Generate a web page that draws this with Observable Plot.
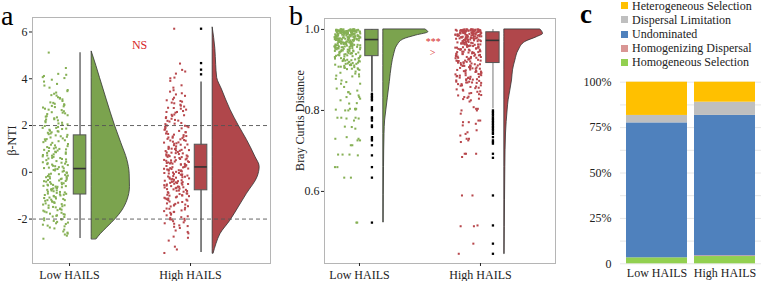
<!DOCTYPE html>
<html><head><meta charset="utf-8">
<script src="https://cdn.jsdelivr.net/npm/d3@7"></script>
<script src="https://cdn.jsdelivr.net/npm/@observablehq/plot@0.6"></script>
<style>
body{margin:0;background:#fff;}
#wrap{position:relative;width:765px;height:281px;overflow:hidden;font-family:"Liberation Serif","Times New Roman",serif;color:#222;}
.panel{position:absolute;top:0;}
.tag{position:absolute;font-family:"Liberation Serif","Times New Roman",serif;color:#000;white-space:nowrap;}
#legend{position:absolute;left:621px;top:0px;font-size:12px;}
#legend .row{height:14.2px;line-height:14.2px;white-space:nowrap;display:flex;align-items:center;}
#legend .row:first-child{margin-top:-1.4px;}
#legend .sw{width:7px;height:7px;margin-right:4px;display:inline-block;}
</style></head><body><div id="wrap"></div>
<script>
// ---------- shared ----------
const groups = ["Low HAILS", "High HAILS"];

// ---------- panel a : beta-NTI ----------
const aLowValues = [5.12,4.46,4.21,4.17,4.12,4.03,3.96,3.88,3.71,3.52,3.47,3.41,3.36,3.28,3.21,3.12,3.05,2.97,2.93,2.88,2.84,2.79,2.72,2.66,2.61,2.57,2.49,2.44,2.38,2.31,2.27,2.19,2.14,2.09,2.03,1.98,1.94,1.87,1.82,1.76,1.71,1.66,1.58,1.54,1.49,1.42,1.37,1.33,1.26,1.21,1.15,1.08,1.04,0.98,0.93,0.88,0.83,0.77,0.72,0.68,0.61,0.57,0.52,0.48,0.41,0.37,0.33,0.28,0.22,0.17,0.13,0.08,0.03,-0.02,-0.06,-0.11,-0.16,-0.19,-0.24,-0.29,-0.33,-0.38,-0.42,-0.47,-0.51,-0.56,-0.61,-0.64,-0.69,-0.73,-0.78,-0.83,-0.86,-0.91,-0.94,-0.99,-1.03,-1.08,-1.12,-1.17,-1.22,-1.26,-1.31,-1.36,-1.41,-1.45,-1.52,-1.57,-1.62,-1.68,-1.73,-1.79,-1.84,-1.91,-1.97,-2.02,-2.08,-2.15,-2.21,-2.28,-2.36,-2.45,-2.53,-2.62,-2.71,-2.84,
 2.52,1.63,1.12,0.91,0.45,0.06,-0.35,-0.67,-0.72,-1.19,-1.64,-2.24,2.26,1.85,1.41,0.71,0.26,-0.14,-0.53,-0.88,-1.06,-1.48,-1.86,-2.05,3.15,2.68,1.02,0.35,-0.27,-0.45,-0.81,-1.33,-0.59,-0.97,0.14,-1.71,2.91,0.62,-0.08,-2.4,
 3.62,3.3,3.18,2.99,2.77,2.55,2.35,2.22,2.12,1.9,1.78,1.69,1.52,1.45,1.29,1.18,1.06,0.96,0.86,0.79,0.66,0.55,0.43,0.31,0.2,0.1,-0.01,-0.09,-0.21,-0.31,-0.4,-0.49,-0.58,-0.66,-0.75,-0.84,-0.92,-1.01,-1.1,-1.19,-1.28,-1.38,-1.5,-1.6,-1.77,-1.89,-2.12,-2.31,-2.58,1.74,1.35,0.74,0.39,-0.18,-0.62,-1.14,-1.55,-2.0,2.4,1.0,0.59,0.18,-0.37,-0.77,-1.24,-1.81,2.82,3.78,4.07,-0.54,-0.96,0.85,0.24,-0.26,1.6,1.9,2.05,-1.42,-2.18,-2.66];
const aHighValues = [6.14,4.65,4.38,4.31,4.22,4.02,3.91,3.62,3.51,3.38,3.27,3.19,3.08,3.02,2.95,2.89,2.81,2.76,2.68,2.62,2.55,2.47,2.41,2.36,2.29,2.24,2.17,2.11,2.06,1.99,1.93,1.88,1.82,1.77,1.71,1.64,1.59,1.53,1.48,1.43,1.38,1.31,1.27,1.22,1.16,1.11,1.06,1.01,0.96,0.91,0.87,0.82,0.78,0.73,0.69,0.64,0.59,0.55,0.51,0.46,0.42,0.38,0.33,0.29,0.25,0.21,0.16,0.12,0.08,0.04,-0.01,-0.05,-0.09,-0.14,-0.18,-0.23,-0.27,-0.32,-0.36,-0.41,-0.45,-0.5,-0.55,-0.59,-0.64,-0.68,-0.73,-0.78,-0.83,-0.88,-0.93,-0.98,-1.04,-1.09,-1.15,-1.21,-1.27,-1.33,-1.39,-1.46,-1.52,-1.59,-1.66,-1.73,-1.81,-1.88,-1.95,-2.02,-2.09,-2.18,-2.27,-2.38,-2.49,-2.61,-2.75,-2.92,-3.18,-3.45,
 1.72,1.35,1.02,0.84,0.66,0.47,0.31,0.18,0.02,-0.12,-0.28,-0.43,-0.61,-0.79,-1.02,-1.25,-1.56,-1.92,1.97,1.49,1.18,0.93,0.71,0.52,0.36,0.22,0.11,-0.03,-0.21,-0.38,-0.52,-0.7,-0.91,-1.12,-1.38,-1.7,-2.01,-2.33,2.21,2.58,0.57,0.4,0.07,-0.16,-0.47,-0.85,-1.45,0.99,0.27,-0.66,
 4.05,3.72,3.45,3.33,3.12,2.98,2.85,2.72,2.58,2.44,2.32,2.2,2.08,1.95,1.84,1.74,1.66,1.55,1.46,1.36,1.28,1.19,1.09,1.0,0.92,0.85,0.76,0.68,0.61,0.53,0.44,0.37,0.3,0.23,0.14,0.06,-0.03,-0.1,-0.19,-0.26,-0.34,-0.42,-0.49,-0.57,-0.65,-0.72,-0.8,-0.9,-0.99,-1.07,-1.17,-1.3,-1.42,-1.55,-1.69,-1.84,-1.99,-2.14,-2.3,-2.55,-2.8,-3.3,1.61,1.24,0.81,0.49,0.09,-0.31,-0.75,-1.19,-1.63,-2.06,2.46,1.9,1.41,0.95,0.65,0.34,-0.07,-0.39,-0.62,-0.96,-1.35,-1.78,2.0,1.05,0.42,-0.22,-0.53,-1.0,2.75,3.05,0.15,-0.46,-1.12,0.72,1.52,-2.2];
// box statistics: [lower whisker, Q1, median, Q3, upper whisker]
const aBoxStats = [[-2.83,-0.95,0.16,1.58,5.11],[-3.43,-0.77,0.23,1.18,3.86]];
const aOutliers = [[], [4.19,4.39,4.67,6.14]];
// half-violin outlines: y values and relative density (widths)
const aViolinLowY  = [5.17,4.55,4.04,3.11,2.0,1.24,0.52,-0.06,-0.63,-1.21,-1.64,-2.0,-2.36,-2.65,-2.86];
const aViolinLowD  = [0,4.7,8.3,15,23.3,29.7,35.7,38,38.3,35.7,30.7,24,15.7,9,5];
const aViolinHighY = [6.2,5.27,4.6,4.04,3.54,2.68,2.0,1.38,0.66,0.23,-0.2,-0.92,-1.5,-2.07,-2.65,-3.08,-3.47];
const aViolinHighD = [0,2.7,3.5,4.5,9.3,17.7,26,34.3,42.7,47,45,34.3,26,17.7,7.7,3.7,1];

// ---------- panel b : Bray Curtis ----------
const bLowValues = [1.0,1.0,1.0,0.999,0.999,0.998,0.998,0.997,0.997,0.996,0.996,0.995,0.995,0.994,0.994,0.993,0.993,0.992,0.991,0.991,0.990,0.989,0.989,0.988,0.987,0.987,0.986,0.985,0.985,0.984,0.983,0.982,0.982,0.981,0.980,0.979,0.979,0.978,0.977,0.976,0.975,0.975,0.974,0.973,0.972,0.971,0.970,0.969,0.968,0.967,0.966,0.965,0.964,0.963,0.962,0.961,0.960,0.959,0.958,0.957,0.956,0.955,0.954,0.953,0.952,0.950,0.949,0.948,0.946,0.945,0.944,0.942,0.941,0.940,0.938,0.937,0.935,0.934,0.932,0.931,0.929,0.927,0.926,0.924,0.922,0.921,0.919,0.917,0.915,0.913,0.912,0.910,0.908,0.906,0.904,0.902,0.900,
 1.0,0.999,0.998,0.997,0.996,0.995,0.994,0.993,0.992,0.991,0.990,0.988,0.986,0.984,0.983,0.981,0.978,0.976,0.974,0.972,0.969,0.967,0.964,0.961,0.958,0.955,0.951,0.947,0.943,0.939,0.933,0.928,0.923,0.918,0.911,0.905,0.998,0.996,0.993,0.989,0.985,0.980,0.975,0.970,0.965,0.959,0.953,0.946,0.936,0.925,0.914,0.903,
 1.0,1.0,1.0,1.0,0.999,0.999,0.999,0.998,0.998,0.998,0.997,0.997,0.996,0.996,0.995,0.995,0.994,0.994,0.993,0.992,0.992,0.991,0.990,0.990,0.989,0.988,0.987,0.986,0.985,0.984,0.983,0.982,0.981,0.980,0.979,0.978,0.977,0.976,0.975,0.974,0.973,0.972,0.970,0.968,0.966,0.964,0.962,0.960,0.958,0.956,0.954,0.951,0.948,0.945,0.942,0.939,0.936,0.932,0.928,0.924,0.920,0.916,0.912,0.907,0.902,0.997,0.995,0.993,0.990,0.987,0.984,0.981,0.978,0.974,0.970,0.966,0.962,0.957,0.952,0.947,0.941,0.935,0.929,0.922,0.915,0.908,0.999,0.996,0.994,0.991,0.988,0.985,0.982,0.979,0.976,0.973,0.969,0.965,0.961,0.956,0.950,
 0.896,0.893,0.891,0.886,0.884,0.884,0.889,0.878,0.874,0.870,0.866,0.866,0.858,0.845,0.841,0.845,0.849,0.854,0.833,0.829,0.833,0.825,0.837,0.817,0.818,0.804,0.800,0.802,0.804,0.802,0.800,0.804,0.775,0.780,0.782,0.782,0.782,0.780,0.755,0.760,0.759,0.730,0.726,0.726,0.730,0.734,0.714,0.714,0.689,0.691,0.691,0.691,0.660,0.660,0.634,0.634,0.523,0.523];
const bHighValues = [1.0,1.0,1.0,0.999,0.999,0.998,0.998,0.997,0.997,0.996,0.996,0.995,0.995,0.994,0.993,0.993,0.992,0.991,0.990,0.989,0.988,0.987,0.986,0.985,0.984,0.983,0.982,0.981,0.980,0.979,0.978,0.977,0.976,0.975,0.974,0.973,0.972,0.971,0.970,0.969,0.968,0.966,0.965,0.964,0.962,0.961,0.959,0.958,0.956,0.955,0.953,0.951,0.950,0.948,0.946,0.944,0.942,0.940,0.938,0.936,0.934,0.932,0.930,0.928,0.926,0.923,0.921,0.919,0.916,0.914,0.911,0.909,0.906,0.903,0.901,0.898,0.895,0.892,0.889,0.886,0.883,0.880,0.877,0.874,0.871,0.868,0.865,0.862,
 1.0,0.999,0.998,0.997,0.995,0.994,0.992,0.990,0.988,0.985,0.983,0.980,0.977,0.974,0.971,0.967,0.963,0.959,0.955,0.950,0.945,0.940,0.935,0.929,0.923,0.917,0.911,0.905,0.899,0.893,0.887,0.881,0.875,0.869,0.997,0.993,0.987,0.981,0.975,0.968,0.960,0.952,0.943,0.933,0.922,0.910,0.897,0.884,0.871,0.858,
 1.0,1.0,1.0,1.0,0.999,0.999,0.998,0.998,0.997,0.997,0.996,0.995,0.994,0.993,0.992,0.991,0.990,0.989,0.988,0.987,0.986,0.985,0.983,0.982,0.980,0.979,0.977,0.975,0.973,0.971,0.969,0.967,0.965,0.963,0.960,0.958,0.955,0.953,0.950,0.947,0.944,0.941,0.938,0.935,0.932,0.929,0.926,0.923,0.920,0.917,0.913,0.910,0.907,0.903,0.900,0.896,0.893,0.889,0.885,0.881,0.877,0.873,0.869,0.865,0.861,0.998,0.996,0.993,0.990,0.986,0.982,0.978,0.973,0.968,0.963,0.957,0.951,0.945,0.939,0.932,0.925,0.918,0.911,0.904,0.897,0.890,0.883,0.876,0.869,0.862,0.999,0.997,0.994,0.991,0.987,0.984,0.980,0.976,0.971,0.966,0.961,0.956,0.950,0.944,0.937,0.930,0.922,0.914,0.905,0.896,0.887,0.878,0.868,
 0.859,0.855,0.852,0.849,0.846,0.843,0.840,0.837,0.834,0.831,0.828,0.825,0.856,0.847,0.838,0.829,0.851,0.842,0.833,0.822,
 0.808,0.804,0.800,0.804,0.800,0.792,0.775,0.771,0.775,0.771,0.767,0.763,0.751,0.746,0.742,0.738,0.730,0.726,0.722,0.730,0.693,0.693,0.693,0.685,0.590,0.590,0.516,0.514,0.514,0.471,0.446];
const bBoxStats = [[0.845,0.934,0.975,0.999,1.0],[0.804,0.917,0.973,0.993,1.0]];
const bOutliers = [
 [0.841,0.837,0.833,0.829,0.825,0.808,0.804,0.800,0.783,0.780,0.775,0.763,0.759,0.734,0.730,0.726,0.714,0.689,0.660,0.634,0.523],
 [0.800,0.796,0.792,0.788,0.783,0.779,0.775,0.771,0.767,0.763,0.759,0.755,0.751,0.746,0.742,0.734,0.726,0.722,0.718,0.693,0.683,0.590,0.516,0.471,0.446]];
const bViolinLowY  = [0.524,0.66,0.742,0.775,0.80,0.83,0.87,0.91,0.94,0.96,0.975,0.985,0.993,1.0];
const bViolinLowD  = [0.4,0.7,1.2,1.8,3,4.5,6.5,8.5,11,14,20,33,45,42];
const bViolinHighY = [0.446,0.578,0.66,0.743,0.80,0.825,0.849,0.874,0.899,0.923,0.948,0.969,0.981,0.989,1.0];
const bViolinHighD = [0.3,0.7,1,1.7,3.3,4.3,6,7.7,8.7,11,14.3,21,32.7,38.7,36];

// ---------- panel c : assembly processes ----------
const cProcesses = ["Homogeneous Selection","Homogenizing Dispersal","Undominated","Dispersal Limitation","Heterogeneous Selection"];
const cLow  = [3.3, 0.0, 74.3, 4.1, 18.3];
const cHigh = [4.0, 0.4, 77.3, 7.3, 11.0];
const cColors = ["#92d050","#d99694","#4f81bd","#bfbfbf","#ffc000"];
const cLegendOrder = ["Heterogeneous Selection","Dispersal Limitation","Undominated","Homogenizing Dispersal","Homogeneous Selection"];

// ---------- styling ----------
const fillCol  = ["#7ba34e", "#b0474b"];
const pointCol = ["#86b055", "#b8474c"];
const serif = '"Liberation Serif","Times New Roman",serif';
const PX = 121; // pixels per x unit (for converting violin widths)

function raincloud(cfg) {
  const marks = [];
  const rng = d3.randomLcg(cfg.seed);
  groups.forEach((name, i) => {
    const g = i + 1;
    const vals = cfg.values[i];
    const pts = vals.map(v => ({x: g + cfg.jc + cfg.jw * (2 * rng() - 1), y: v}));
    marks.push(Plot.dot(pts, {x: "x", y: "y", r: 1.15, symbol: "square", fill: pointCol[i]}));
    const vy = cfg.violinY[i], vd = cfg.violinD[i];
    const vrows = vy.map((y, k) => ({y, x1: g + cfg.vb, x2: g + cfg.vb + vd[k] / PX})).sort((a, b) => a.y - b.y);
    marks.push(Plot.areaX(vrows, {y: "y", x1: "x1", x2: "x2", fill: fillCol[i], stroke: "#333", strokeWidth: 0.8, curve: "monotone-y"}));
    const s = cfg.box[i];
    const bx = g + cfg.bc;
    marks.push(Plot.ruleX([s], {x: () => bx, y1: d => d[0], y2: d => d[4], stroke: cfg.whisker[i], strokeWidth: 1.6}));
    marks.push(Plot.rect([s], {x1: () => bx - cfg.bw, x2: () => bx + cfg.bw, y1: d => d[1], y2: d => d[3], fill: fillCol[i], stroke: "#555", strokeWidth: 1}));
    marks.push(Plot.ruleY([s], {y: d => d[2], x1: () => bx - cfg.bw, x2: () => bx + cfg.bw, stroke: "#333", strokeWidth: 1.6}));
    marks.push(Plot.dot(cfg.outliers[i], {x: () => bx, y: d => d, r: 1.3, symbol: "square", fill: "#000"}));
  });
  return marks;
}

const wrap = document.getElementById("wrap");
function place(node, left) { node.classList.add("panel"); node.style.left = left + "px"; wrap.appendChild(node); }

// ---------- panel a ----------
const plotA = Plot.plot({
  width: 290, height: 281, marginLeft: 32, marginRight: 20, marginTop: 17, marginBottom: 18,
  style: {fontFamily: serif, fontSize: "12px", color: "#222", background: "transparent", overflow: "visible"},
  x: {domain: [0.694, 2.661]},
  y: {domain: [-3.9, 6.62]},
  marks: [
    ...raincloud({seed: 7, values: [aLowValues, aHighValues], violinY: [aViolinLowY, aViolinHighY], violinD: [aViolinLowD, aViolinHighD],
      box: aBoxStats, outliers: aOutliers, jc: -0.117, jw: 0.105, bc: 0.087, bw: 0.052, vb: 0.183, whisker: ["#777", "#666"]}),
    Plot.ruleY([-2, 2], {stroke: "#555", strokeWidth: 0.9, strokeDasharray: "4,3"}),
    Plot.text(["NS"], {x: () => 1.579, y: () => 5.43, text: d => d, fill: "#d62728", fontSize: 12}),
    Plot.frame({stroke: "#b5b5b5"}),
    Plot.axisY({ticks: [-2, 0, 2, 4, 6], tickFormat: d => String(d), tickSize: 3, tickPadding: 2, label: null}),
    Plot.axisX({ticks: [1, 2], tickFormat: d => groups[d - 1], tickSize: 3, tickPadding: 4, label: null}),
    Plot.text(["β-NTI"], {frameAnchor: "left", textAnchor: "middle", dx: -20, rotate: -90, text: d => d, fontSize: 12, fill: "#222"})
  ]
});
place(plotA, 0);

// ---------- panel b ----------
const plotB = Plot.plot({
  width: 270, height: 281, marginLeft: 34, marginRight: 5, marginTop: 18, marginBottom: 18,
  style: {fontFamily: serif, fontSize: "12px", color: "#222", background: "transparent", overflow: "visible"},
  x: {domain: [0.711, 2.62]},
  y: {domain: [0.422, 1.027]},
  marks: [
    ...raincloud({seed: 11, values: [bLowValues, bHighValues], violinY: [bViolinLowY, bViolinHighY], violinD: [bViolinLowD, bViolinHighD],
      box: bBoxStats, outliers: bOutliers, jc: -0.1, jw: 0.108, bc: 0.103, bw: 0.055, vb: 0.197, whisker: ["#444", "#aaa"]}),
    Plot.text(["***"], {x: () => 1.61, y: () => 0.9702, text: d => d, fill: "#d62728", fontSize: 10, lineAnchor: "middle"}),
    Plot.text([">"], {x: () => 1.605, y: () => 0.9414, text: d => d, fill: "#d62728", fontSize: 10, lineAnchor: "middle"}),
    Plot.frame({stroke: "#b5b5b5"}),
    Plot.axisY({ticks: [0.6, 0.8, 1.0], tickFormat: d => d.toFixed(1), tickSize: 3, tickPadding: 2, label: null}),
    Plot.axisX({ticks: [1, 2], tickFormat: d => groups[d - 1], tickSize: 3, tickPadding: 4, label: null}),
    Plot.text(["Bray Curtis Distance"], {frameAnchor: "left", textAnchor: "middle", y: () => 0.775, dx: -24, rotate: -90, text: d => d, fontSize: 12, fill: "#222"})
  ]
});
place(plotB, 290);

// ---------- panel c ----------
const cRows = [];
groups.forEach((g, gi) => cProcesses.forEach((p, pi) => cRows.push({g, p, v: (gi ? cHigh : cLow)[pi]})));
const plotC = Plot.plot({
  width: 205, height: 281, marginLeft: 60, marginRight: 4, marginTop: 81.7, marginBottom: 17.7,
  style: {fontFamily: serif, fontSize: "12px", color: "#222", background: "transparent", overflow: "visible"},
  x: {domain: groups, paddingInner: 0.11, paddingOuter: 0.077},
  y: {domain: [0, 100]},
  color: {domain: cProcesses, range: cColors},
  marks: [
    Plot.gridY({ticks: [0, 12.5, 25, 37.5, 50, 62.5, 75, 87.5, 100], stroke: "#e6e6e6", strokeOpacity: 1}),
    Plot.barY(cRows, {x: "g", y: "v", fill: "p"}),
    Plot.axisY({ticks: [0, 25, 50, 75, 100], tickFormat: d => d ? d + "%" : "0", tickSize: 0, tickPadding: 9, label: null}),
    Plot.axisX({tickSize: 0, tickPadding: 5, label: null})
  ]
});
place(plotC, 560);

// legend
const leg = document.createElement("div");
leg.id = "legend";
cLegendOrder.forEach(p => {
  const row = document.createElement("div"); row.className = "row";
  const sw = document.createElement("span"); sw.className = "sw"; sw.style.background = cColors[cProcesses.indexOf(p)];
  row.appendChild(sw); row.appendChild(document.createTextNode(p)); leg.appendChild(row);
});
wrap.appendChild(leg);

// panel tags (line box equal to the font's content area, kept inside the page)
[["a", 1, 28, "normal"], ["b", 289, 28, "normal"], ["c", 580, 27, "bold"]].forEach(([t, l, fs, fw]) => {
  const d = document.createElement("div"); d.className = "tag"; d.textContent = t;
  d.style.left = l + "px"; d.style.top = "0px"; d.style.fontSize = fs + "px"; d.style.fontWeight = fw;
  d.style.lineHeight = (1.107 * fs).toFixed(1) + "px";
  wrap.appendChild(d);
});
</script></body></html>
